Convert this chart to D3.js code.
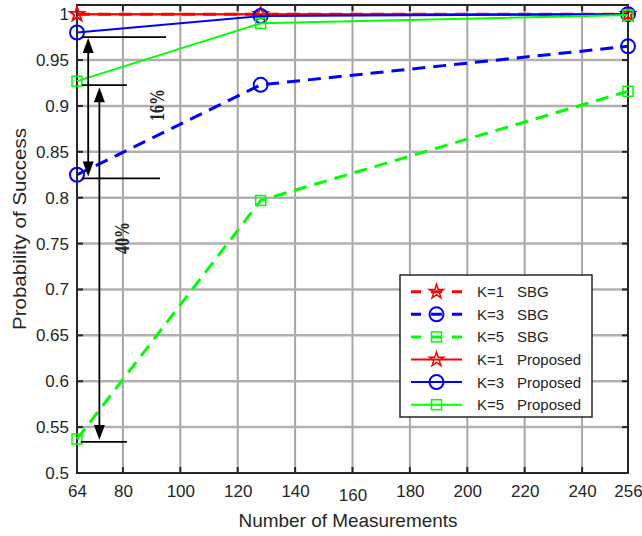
<!DOCTYPE html>
<html>
<head>
<meta charset="utf-8">
<script src="https://cdn.jsdelivr.net/npm/d3@7"></script>
<style>
  html, body { margin: 0; padding: 0; background: #fff; }
  #chart { width: 642px; height: 536px; overflow: hidden; }
  text { font-family: "Liberation Sans", Arial, sans-serif; fill: #262626; }
</style>
</head>
<body>
<div id="chart"></div>
<script>
// --- data ---
const measurements = [64, 128, 256];
const xTicks = [64, 80, 100, 120, 140, 160, 180, 200, 220, 240, 256];
const yTicks = [0.5, 0.55, 0.6, 0.65, 0.7, 0.75, 0.8, 0.85, 0.9, 0.95, 1];

const sbgK1 = [1, 1, 1];
const sbgK3 = [0.825, 0.923, 0.965];
const sbgK5 = [0.537, 0.797, 0.916];
const propK1 = [1, 1, 1];
const propK3 = [0.98, 0.998, 1];
const propK5 = [0.927, 0.99, 0.999];

const seriesNames = ["K=1", "K=3", "K=5", "K=1", "K=3", "K=5"];
const methodNames = ["SBG", "SBG", "SBG", "Proposed", "Proposed", "Proposed"];

// annotation marks in data units
const guideLines = [
  { y: 0.975, x0: 65.7, x1: 95 },
  { y: 0.9227, x0: 65.7, x1: 81.4 },
  { y: 0.821, x0: 65.7, x1: 92.9 },
  { y: 0.534, x0: 65.3, x1: 81.4 }
];
const arrows = [
  { x: 67.9, y0: 0.974, y1: 0.823 },
  { x: 71.8, y0: 0.9205, y1: 0.536 }
];
const notes = [
  { x: 91.9, y: 0.901, text: "16%" },
  { x: 79.6, y: 0.756, text: "40%" }
];

const series = [
  { values: sbgK1, color: "#ff0000", dashed: true, marker: "star" },
  { values: sbgK3, color: "#0000ff", dashed: true, marker: "circle" },
  { values: sbgK5, color: "#00ff00", dashed: true, marker: "square" },
  { values: propK1, color: "#ff0000", dashed: false, marker: "star" },
  { values: propK3, color: "#0000ff", dashed: false, marker: "circle" },
  { values: propK5, color: "#00ff00", dashed: false, marker: "square" }
];

const W = 642, H = 536;
const m = { left: 77, right: 628, top: 5, bottom: 473 };

const svg = d3.select("#chart").append("svg")
  .attr("width", W).attr("height", H);

const x = d3.scaleLinear().domain([64, 256]).range([m.left, m.right]);
const y = d3.scaleLinear().domain([0.5, 1.01]).range([m.bottom, m.top]);

// grid
const grid = svg.append("g");
grid.selectAll("line.vg")
  .data(xTicks.slice(1, -1))
  .enter().append("line")
  .attr("x1", d => x(d)).attr("x2", d => x(d))
  .attr("y1", m.top).attr("y2", m.bottom)
  .attr("stroke", "#a6a6a6").attr("stroke-width", 2);
grid.selectAll("line.hg")
  .data(yTicks.slice(1))
  .enter().append("line")
  .attr("x1", m.left).attr("x2", m.right)
  .attr("y1", d => y(d)).attr("y2", d => y(d))
  .attr("stroke", "#b0b0b0").attr("stroke-width", 2.5);

// axes (MATLAB style box with inward ticks)
const tickLen = 6;
const xAxisB = d3.axisBottom(x).tickValues(xTicks).tickSize(0).tickPadding(12);
const gx = svg.append("g").attr("transform", `translate(0,${m.bottom})`).call(xAxisB);
gx.select(".domain").remove();
gx.selectAll("text")
  .style("font-size", "17px")
  .attr("fill", "#262626")
  .attr("dy", d => d === 160 ? "0.92em" : "0.71em");

const yAxisL = d3.axisLeft(y).tickValues(yTicks).tickSize(0).tickPadding(8)
  .tickFormat(d => String(d));
const gy = svg.append("g").attr("transform", `translate(${m.left},0)`).call(yAxisL);
gy.select(".domain").remove();
gy.selectAll("text").style("font-size", "17px").attr("fill", "#262626");

const frame = svg.append("g").attr("stroke", "#262626").attr("stroke-width", 2);
// inward ticks
frame.selectAll("line.xt")
  .data(xTicks.slice(1, -1))
  .enter().append("line")
  .attr("x1", d => x(d)).attr("x2", d => x(d))
  .attr("y1", m.bottom).attr("y2", m.bottom - tickLen);
frame.selectAll("line.xtt")
  .data(xTicks.slice(1, -1))
  .enter().append("line")
  .attr("x1", d => x(d)).attr("x2", d => x(d))
  .attr("y1", m.top).attr("y2", m.top + tickLen);
frame.selectAll("line.yt")
  .data(yTicks.slice(1))
  .enter().append("line")
  .attr("x1", m.left).attr("x2", m.left + tickLen)
  .attr("y1", d => y(d)).attr("y2", d => y(d));
frame.selectAll("line.ytr")
  .data(yTicks.slice(1))
  .enter().append("line")
  .attr("x1", m.right).attr("x2", m.right - tickLen)
  .attr("y1", d => y(d)).attr("y2", d => y(d));
frame.append("rect")
  .attr("x", m.left).attr("y", m.top)
  .attr("width", m.right - m.left).attr("height", m.bottom - m.top)
  .attr("fill", "none");

// axis titles
svg.append("text")
  .attr("x", 348).attr("y", 527)
  .attr("text-anchor", "middle")
  .attr("textLength", 219).attr("lengthAdjust", "spacingAndGlyphs")
  .style("font-size", "19px")
  .text("Number of Measurements");
svg.append("text")
  .attr("transform", "translate(26,229) rotate(-90)")
  .attr("text-anchor", "middle")
  .attr("textLength", 202).attr("lengthAdjust", "spacingAndGlyphs")
  .style("font-size", "18px")
  .text("Probability of Success");

// markers
function starPath(R) {
  const r = R * 0.382;
  const pts = [];
  for (let i = 0; i < 10; i++) {
    const a = -Math.PI / 2 + i * Math.PI / 5;
    const rr = i % 2 === 0 ? R : r;
    pts.push([rr * Math.cos(a), rr * Math.sin(a)]);
  }
  return "M" + pts.map(p => p.join(",")).join("L") + "Z";
}
function drawMarker(g, type, color) {
  if (type === "circle") {
    g.append("circle").attr("r", 7).attr("fill", "none")
      .attr("stroke", color).attr("stroke-width", 2);
  } else if (type === "square") {
    g.append("rect").attr("x", -5).attr("y", -5).attr("width", 10).attr("height", 10)
      .attr("fill", "none").attr("stroke", color).attr("stroke-width", 1.5);
  } else {
    g.append("path").attr("d", starPath(7.5)).attr("fill", "none")
      .attr("stroke", color).attr("stroke-width", 1.5);
  }
}

const line = d3.line()
  .x((d, i) => x(measurements[i]))
  .y(d => y(d));

series.forEach(s => {
  svg.append("path")
    .attr("d", line(s.values))
    .attr("fill", "none")
    .attr("stroke", s.color)
    .attr("stroke-width", s.dashed ? 3 : 2)
    .attr("stroke-dasharray", s.dashed ? "13,8" : null);
  s.values.forEach((v, i) => {
    const g = svg.append("g").attr("transform", `translate(${x(measurements[i])},${y(v)})`);
    drawMarker(g, s.marker, s.color);
  });
});

// annotations
const ann = svg.append("g");
ann.selectAll("line.guide")
  .data(guideLines)
  .enter().append("line")
  .attr("x1", d => x(d.x0)).attr("x2", d => x(d.x1))
  .attr("y1", d => y(d.y)).attr("y2", d => y(d.y))
  .attr("stroke", "#000").attr("stroke-width", 1.8);

arrows.forEach(a => {
  const ax = x(a.x), yt = y(a.y0), yb = y(a.y1);
  const hl = 15, hw = 5.5;
  ann.append("line")
    .attr("x1", ax).attr("x2", ax).attr("y1", yt + hl - 2).attr("y2", yb - hl + 2)
    .attr("stroke", "#000").attr("stroke-width", 1.8);
  ann.append("path")
    .attr("d", `M${ax},${yt}L${ax - hw},${yt + hl}L${ax + hw},${yt + hl}Z`)
    .attr("fill", "#000");
  ann.append("path")
    .attr("d", `M${ax},${yb}L${ax - hw},${yb - hl}L${ax + hw},${yb - hl}Z`)
    .attr("fill", "#000");
});

ann.selectAll("text.note")
  .data(notes)
  .enter().append("text")
  .attr("transform", d => `translate(${x(d.x)},${y(d.y)}) rotate(-90)`)
  .attr("text-anchor", "middle")
  .attr("dy", "0.35em")
  .attr("textLength", 32).attr("lengthAdjust", "spacingAndGlyphs")
  .style("font-family", "'Liberation Serif', 'Times New Roman', serif")
  .style("font-weight", "bold")
  .style("font-size", "20px")
  .attr("fill", "#000")
  .text(d => d.text);

// legend
const lg = svg.append("g");
lg.append("rect")
  .attr("x", 400).attr("y", 275).attr("width", 192).attr("height", 142)
  .attr("fill", "#fff").attr("stroke", "#262626").attr("stroke-width", 1.5);
series.forEach((s, i) => {
  const ry = 291.7 + i * 22.6;
  lg.append("line")
    .attr("x1", 411).attr("x2", 462).attr("y1", ry).attr("y2", ry)
    .attr("stroke", s.color)
    .attr("stroke-width", s.dashed ? 3 : 2)
    .attr("stroke-dasharray", s.dashed ? "10,10,11,10,10" : null);
  const g = lg.append("g").attr("transform", `translate(436.5,${ry})`);
  drawMarker(g, s.marker, s.color);
  lg.append("text").attr("x", 477).attr("y", ry).attr("dy", "0.36em")
    .style("font-size", "15px").text(seriesNames[i]);
  lg.append("text").attr("x", 517).attr("y", ry).attr("dy", "0.36em")
    .style("font-size", "15px").text(methodNames[i]);
});
</script>
</body>
</html>
